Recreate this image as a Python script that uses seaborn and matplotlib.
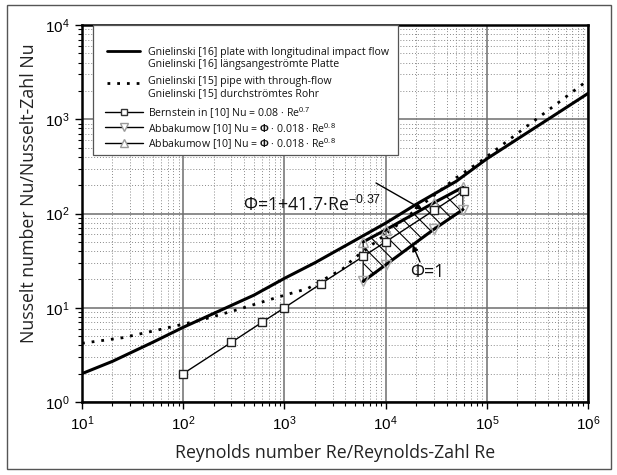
import numpy as np
import matplotlib
matplotlib.use("Agg")
import matplotlib.pyplot as plt
import seaborn as sns
from matplotlib.lines import Line2D
from matplotlib.patches import Rectangle
from matplotlib.ticker import LogLocator, NullFormatter

# Gnielinski [16]: flat plate, longitudinal flow
re_plate = [10, 20, 50, 100, 200, 500, 1e3, 2e3, 5e3, 1e4, 2e4, 5e4, 1e5, 2e5, 5e5, 1e6]
nu_plate = [2.0, 2.7, 4.3, 6.2, 8.7, 13.6, 20.5, 30, 52, 79, 125, 220, 380, 615, 1160, 1880]

# Gnielinski [15]: pipe with through-flow
re_pipe = [10, 25, 60, 150, 350, 850, 1700, 3800, 4800, 1e4, 2e4, 5e4, 8.6e4, 2e5, 5e5, 1e6]
nu_pipe = [4.2, 4.8, 5.9, 7.4, 9.6, 12.9, 16, 26, 33, 60, 110, 240, 355, 705, 1480, 2600]

# Bernstein in [10]: Nu = 0.08 Re^0.7
re_bern = [100, 300, 600, 1000, 2300, 6000, 1e4, 3e4, 6e4]
nu_bern = [2.0, 4.3, 7.0, 10, 18, 35, 50, 108, 175]

# Abbakumow [10]: Nu = Phi * 0.018 Re^0.8
re_abb = [6000, 1e4, 3e4, 5.8e4]
nu_abb_phi1 = [19, 28.5, 68, 110]     # Phi = 1
nu_abb_phi = [50, 67, 130, 190]       # Phi = 1 + 41.7 Re^-0.37

legend_labels = [
    ["Gnielinski [16] plate with longitudinal impact flow",
     "Gnielinski [16] längsangeströmte Platte"],
    ["Gnielinski [15] pipe with through-flow",
     "Gnielinski [15] durchströmtes Rohr"],
    ["Bernstein in [10] Nu = 0.08 · Re$^{0.7}$"],
    ["Abbakumow [10] Nu = $\\mathbf{\\Phi}$ · 0.018 · Re$^{0.8}$"],
    ["Abbakumow [10] Nu = $\\mathbf{\\Phi}$ · 0.018 · Re$^{0.8}$"],
]

sns.set_theme(style="white")
plt.rcParams["font.family"] = ["Open Sans", "DejaVu Sans"]
plt.rcParams["mathtext.fontset"] = "custom"
plt.rcParams["mathtext.rm"] = "Liberation Sans"
plt.rcParams["mathtext.bf"] = "Liberation Sans:bold"
plt.rcParams["mathtext.it"] = "Liberation Sans:italic"
plt.rcParams["hatch.linewidth"] = 0.8

W, H = 617, 475
X0, X1, Y0, Y1 = 82, 588, 25, 402          # plot area in pixels
fig = plt.figure(figsize=(W / 100, H / 100), dpi=100)
fig.patch.set_facecolor("white")
ax = fig.add_axes([X0 / W, 1 - Y1 / H, (X1 - X0) / W, (Y1 - Y0) / H])
ax.set_facecolor("white")


def fx(px):
    return (px - X0) / (X1 - X0)


def fy(py):
    return (Y1 - py) / (Y1 - Y0)


# outer frame of the figure
fig.patches.append(Rectangle((7 / W, 1 - 469 / H), (611 - 7) / W, (469 - 5) / H,
                             transform=fig.transFigure, fill=False,
                             edgecolor="#555555", lw=1.0))

ax.set_xscale("log")
ax.set_yscale("log")
ax.set_xlim(10, 1e6)
ax.set_ylim(1, 1e4)

for axis in (ax.xaxis, ax.yaxis):
    axis.set_major_locator(LogLocator(base=10, numticks=20))
    axis.set_minor_locator(LogLocator(base=10, subs=np.arange(2, 10), numticks=200))
    axis.set_minor_formatter(NullFormatter())

ax.grid(which="major", color="#6e6e6e", lw=1.1, ls="-", zorder=0)
ax.grid(which="minor", color="#8a8a8a", lw=0.7, ls=(0, (1, 2)), zorder=0)
ax.set_axisbelow(True)

# hatched Abbakumow band
ax.fill_between(re_abb, nu_abb_phi1, nu_abb_phi, facecolor="none",
                edgecolor="black", hatch="\\\\", lw=0.8, zorder=2)

sns.lineplot(x=re_plate, y=nu_plate, ax=ax, color="black", lw=2.2,
             sort=False, estimator=None, zorder=3)
sns.lineplot(x=re_pipe, y=nu_pipe, ax=ax, color="black", lw=2.0,
             linestyle=(0, (1, 2.5)), dash_capstyle="butt",
             sort=False, estimator=None, zorder=3)
sns.lineplot(x=re_abb, y=nu_abb_phi1, ax=ax, color="black", lw=2.2,
             marker="v", markersize=7, markerfacecolor="none",
             markeredgecolor="#a8a8a8", markeredgewidth=1.0,
             sort=False, estimator=None, zorder=3)
sns.lineplot(x=re_abb, y=nu_abb_phi, ax=ax, color="black", lw=2.2,
             marker="^", markersize=7, markerfacecolor="none",
             markeredgecolor="#a8a8a8", markeredgewidth=1.0,
             sort=False, estimator=None, zorder=3)
sns.lineplot(x=re_bern, y=nu_bern, ax=ax, color="black", lw=1.0,
             marker="s", markersize=6, markerfacecolor="white",
             markeredgecolor="#222222", markeredgewidth=1.0,
             sort=False, estimator=None, zorder=4)


# annotations with arrows onto the band boundaries
def on_curve(re_pts, nu_pts, re):
    return 10 ** np.interp(np.log10(re), np.log10(re_pts), np.log10(nu_pts))


re_up = 2.3e4
ax.annotate("", xy=(re_up, on_curve(re_abb, nu_abb_phi, re_up)),
            xytext=(fx(376), fy(183)), textcoords="axes fraction",
            arrowprops=dict(arrowstyle="-|>", color="black", lw=1.0,
                            mutation_scale=9, shrinkA=0, shrinkB=0), zorder=6)
ax.text(fx(243), fy(205), "Φ=1+41.7·Re$^{-0.37}$", transform=ax.transAxes,
        ha="left", va="center", fontsize=12.8, color="#111111", zorder=6)

re_lo = 1.85e4
ax.annotate("", xy=(re_lo, on_curve(re_abb, nu_abb_phi1, re_lo)),
            xytext=(fx(420), fy(262)), textcoords="axes fraction",
            arrowprops=dict(arrowstyle="-|>", color="black", lw=1.0,
                            mutation_scale=9, shrinkA=0, shrinkB=0), zorder=6)
ax.text(fx(427), fy(272), "Φ=1", transform=ax.transAxes,
        ha="center", va="center", fontsize=12.8, color="#111111", zorder=6)

# legend: framed box with sample lines and two-language labels
ax.add_patch(Rectangle((fx(93), fy(155)), fx(398) - fx(93), fy(25) - fy(155),
                       transform=ax.transAxes, facecolor="white",
                       edgecolor="#555555", lw=0.9, zorder=7))
handle_styles = [
    dict(color="black", lw=2.0),
    dict(color="black", lw=2.0, ls=(0, (1, 2.5))),
    dict(color="black", lw=1.0, marker="s", ms=5, mfc="white", mec="#333333"),
    dict(color="black", lw=1.0, marker="v", ms=6, mfc="white", mec="#999999"),
    dict(color="black", lw=1.0, marker="^", ms=6, mfc="white", mec="#999999"),
]
row_px = [[51, 63], [80, 92], [111.5], [127], [142.5]]
handle_dy = [0, 3, 0, 0, 0]
for style, rows, labels, dy in zip(handle_styles, row_px, legend_labels, handle_dy):
    hy = fy(rows[0] + dy)
    if "marker" in style:
        ax.add_line(Line2D([fx(105), fx(143)], [hy, hy], transform=ax.transAxes,
                           clip_on=False, zorder=8,
                           **{k: v for k, v in style.items() if k not in ("marker", "ms", "mfc", "mec")}))
        ax.add_line(Line2D([fx(124)], [hy], transform=ax.transAxes, clip_on=False,
                           zorder=9, ls="none", marker=style["marker"], ms=style["ms"],
                           mfc=style["mfc"], mec=style["mec"], mew=1.0))
    else:
        ax.add_line(Line2D([fx(107), fx(140)], [hy, hy], transform=ax.transAxes,
                           clip_on=False, zorder=8, dash_capstyle="butt", **style))
    for py, txt in zip(rows, labels):
        ax.text(fx(148), fy(py), txt, transform=ax.transAxes, ha="left",
                va="center_baseline", fontsize=7.6, color="#111111", zorder=9)

ax.set_xlabel("Reynolds number Re/Reynolds-Zahl Re", fontsize=12.8, color="#222222", labelpad=8)
ax.set_ylabel("Nusselt number Nu/Nusselt-Zahl Nu", fontsize=12.8, color="#222222")
ax.yaxis.set_label_coords(fx(38), fy(193))

ax.tick_params(which="both", direction="out", colors="black", bottom=True, left=True,
               top=False, right=False)
ax.tick_params(which="major", length=5, width=1.0, labelsize=11, pad=4)
ax.tick_params(which="minor", length=3, width=0.8)
for lab in ax.get_xticklabels() + ax.get_yticklabels():
    lab.set_fontfamily("Liberation Sans")

for s in ax.spines.values():
    s.set_visible(True)
    s.set_color("black")
    s.set_linewidth(1.8)

fig.savefig("out.png", dpi=100, facecolor="white")
